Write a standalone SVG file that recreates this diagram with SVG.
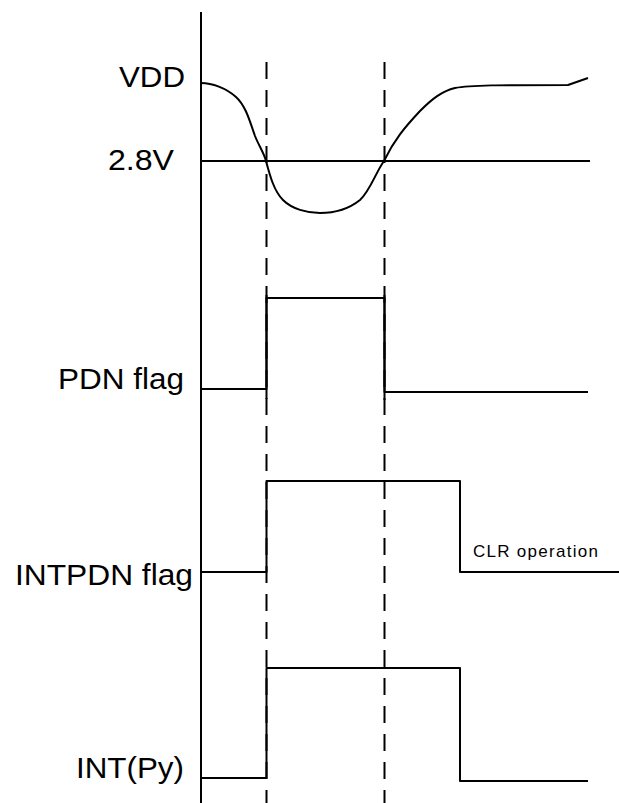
<svg xmlns="http://www.w3.org/2000/svg" width="619" height="803" viewBox="0 0 619 803">
<style>
.ln{fill:none;stroke:#000;stroke-width:2;stroke-linejoin:round}
.dash{fill:none;stroke:#000;stroke-width:2;stroke-dasharray:17 11}
.lbl{font-family:"Liberation Sans",Arial,sans-serif;font-size:29px;fill:#000}
.small{font-family:"Liberation Sans",Arial,sans-serif;font-size:17px;fill:#000}
</style>
<rect width="619" height="803" fill="#fff"/>
<g id="axes">
<line class="ln" x1="201" y1="12" x2="201" y2="803"/>
<line class="dash" x1="266.5" y1="62" x2="266.5" y2="803"/>
<line class="dash" x1="384.5" y1="62" x2="384.5" y2="803"/>
</g>
<g id="labels">
<text class="lbl" x="119" y="87" textLength="66" lengthAdjust="spacingAndGlyphs">VDD</text>
<text class="lbl" x="108" y="170" textLength="66" lengthAdjust="spacingAndGlyphs">2.8V</text>
<text class="lbl" x="58" y="389" textLength="126" lengthAdjust="spacingAndGlyphs">PDN flag</text>
<text class="lbl" x="15" y="585" textLength="178" lengthAdjust="spacingAndGlyphs">INTPDN flag</text>
<text class="lbl" x="76" y="778" textLength="108" lengthAdjust="spacingAndGlyphs">INT(Py)</text>
</g>
<g id="vdd">
<line class="ln" x1="201" y1="161" x2="590" y2="161"/>
<path class="ln" d="M201,83 C212,83 226,88 236,97 C246,106 250,122 255,136 C259,146 264,153 266,161 C270,176 274,191 283,200 C292,209 307,213 320,213 C335,213 350,208 360,200 C370,191 376,172 384,161 C394,140 405,127 420,111 C432,99 442,91 455,88 C470,85 500,85 568,85 L588,78"/>
</g>
<g id="pdn">
<polyline class="ln" points="201,389 266.5,389 266.5,298 384.5,298 384.5,392 588,392"/>
<line class="ln" x1="266.5" y1="295" x2="266.5" y2="399"/>
<line class="ln" x1="384.5" y1="295" x2="384.5" y2="400"/>
</g>
<g id="intpdn">
<polyline class="ln" points="201,572 266.5,572 266.5,481 460,481 460,572 619,572"/>
<text class="small" x="473" y="557" textLength="125" lengthAdjust="spacing">CLR operation</text>
</g>
<g id="intpy">
<polyline class="ln" points="201,778 266.5,778 266.5,668 460,668 460,781 588,781"/>
</g>
</svg>
